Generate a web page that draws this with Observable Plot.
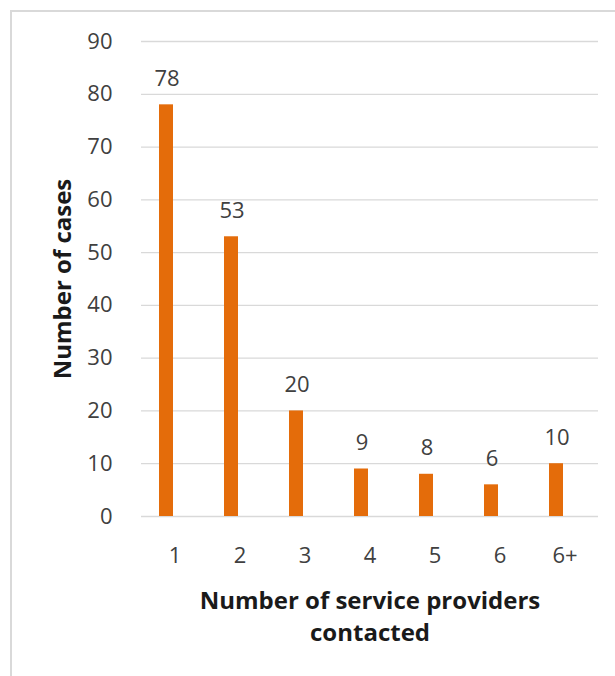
<!DOCTYPE html>
<html>
<head>
<meta charset="utf-8">
<script src="https://cdn.jsdelivr.net/npm/d3@7"></script>
<script src="https://cdn.jsdelivr.net/npm/@observablehq/plot@0.6"></script>
<style>
  html, body { margin: 0; padding: 0; background: #fff; }
  #wrap { position: relative; width: 615px; height: 676px; overflow: hidden; }
  #frame { position: absolute; left: 10px; top: 10px; width: 700px; height: 800px;
           border-left: 2px solid #d9d9d9; border-top: 2px solid #d9d9d9; box-sizing: border-box; }
  #chart { position: absolute; left: 0; top: 0; }
</style>
</head>
<body>
<div id="wrap"><div id="frame"></div><div id="chart"></div></div>
<script>
const categories = ["1", "2", "3", "4", "5", "6", "6+"];
const cases = [78, 53, 20, 9, 8, 6, 10];
const yTicks = [0, 10, 20, 30, 40, 50, 60, 70, 80, 90];
const xTitleLines = ["Number of service providers", "contacted"];
const yTitle = "Number of cases";

const data = categories.map((c, i) => ({category: c, value: cases[i]}));
const font = "'Open Sans', 'Noto Sans', sans-serif";

const chart = Plot.plot({
  width: 615,
  height: 676,
  marginLeft: 141,
  marginRight: 17,
  marginTop: 41,
  marginBottom: 160,
  style: {fontFamily: font, fontSize: "22px", color: "#404040", background: "transparent"},
  x: {domain: categories, padding: 0},
  y: {domain: [0, 90]},
  marks: [
    Plot.gridY(yTicks, {stroke: "#d9d9d9", strokeOpacity: 1, strokeWidth: 1.3}),
    Plot.axisY(yTicks, {tickSize: 0, tickPadding: 29, label: null, fontSize: 22, fill: "#404040"}),
    Plot.axisX({tickSize: 0, tickPadding: 31, label: null, fontSize: 22, fill: "#404040"}),
    Plot.barY(data, {x: "category", y: "value", fill: "#E46C0A", insetLeft: 17, insetRight: 34}),
    Plot.text(data, {x: "category", y: "value", text: d => String(d.value), dx: -8, dy: -26,
      fontSize: 22, fill: "#404040"}),
    Plot.text([xTitleLines[0]], {frameAnchor: "bottom", dy: 92,
      fontSize: 24, fontWeight: 700, fill: "#1a1a1a"}),
    Plot.text([xTitleLines[1]], {frameAnchor: "bottom", dy: 124,
      fontSize: 24, fontWeight: 700, fill: "#1a1a1a"}),
    Plot.text([yTitle], {frameAnchor: "left", textAnchor: "middle", rotate: -90, dx: -78,
      fontSize: 24, fontWeight: 700, fill: "#1a1a1a"})
  ]
});
document.getElementById("chart").appendChild(chart);
</script>
</body>
</html>
